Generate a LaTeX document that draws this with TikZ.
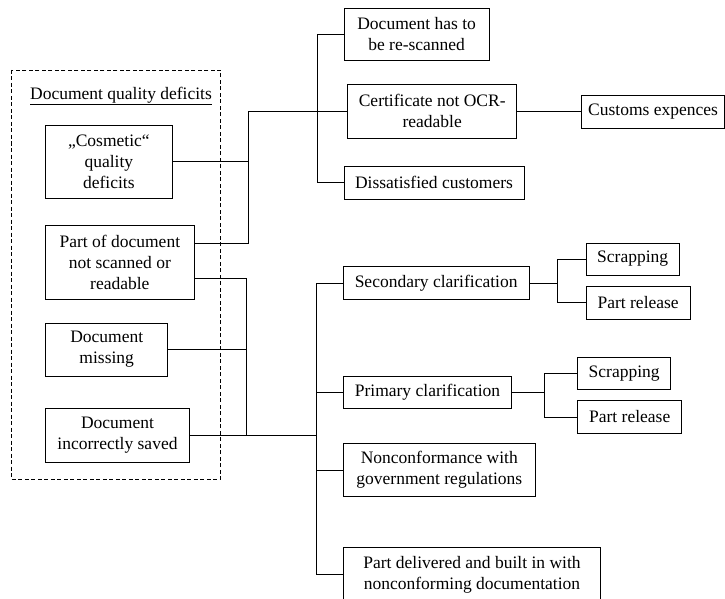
\documentclass[tikz,border=0pt]{standalone}
\usepackage{fontspec}
\setmainfont{Liberation Serif}
\begin{document}
\begin{tikzpicture}[x=1pt,y=-1pt,
  every node/.style={font=\fontsize{17.5}{21}\selectfont},
  box/.style={draw=black,line width=0.8pt,inner sep=0pt,align=center},
  conn/.style={line width=0.8pt},
  grp/.style={draw=black,line width=0.8pt,dash pattern=on 4pt off 2.5pt}]
\useasboundingbox (0,0) rectangle (725,599);
% group
\draw[grp] (11.7,70) rectangle (220.7,479.3);
\node (title) at (121,96) {\underline{Document quality deficits}};
% left boxes
\node[box,minimum width=126.3pt,minimum height=73.3pt] (cos) at (108.85,161.65) {„Cosmetic“\\quality\\deficits};
\node[box,minimum width=148.3pt,minimum height=73.6pt] (part) at (119.85,262.5) {Part of document\\not scanned or\\readable};
\node[box,minimum width=122pt,minimum height=52.7pt] (miss) at (106.7,349.65) {Document\\missing};
\node[box,minimum width=143.6pt,minimum height=53.3pt] (inc) at (117.5,435.35) {Document\\incorrectly saved};
% upper right
\node[box,minimum width=145.3pt,minimum height=52.4pt] (rescan) at (416.65,34.5) {Document has to\\be re-scanned};
\node[box,minimum width=169pt,minimum height=53.7pt] (cert) at (432.2,111.15) {Certificate not OCR-\\readable};
\node[box,minimum width=180pt,minimum height=32.3pt] (dissat) at (434,182.85) {Dissatisfied customers};
\node[box,minimum width=142.8pt,minimum height=32.3pt] (cust) at (653.1,111.9) {Customs expences};
% lower right
\node[box,minimum width=185.7pt,minimum height=32.6pt] (sec) at (436.15,283) {Secondary clarification};
\node[box,minimum width=93.3pt,minimum height=32pt] (scr1) at (632.65,259) {Scrapping};
\node[box,minimum width=104.3pt,minimum height=33pt] (rel1) at (638.15,302.5) {Part release};
\node[box,minimum width=168.4pt,minimum height=32.7pt] (prim) at (427.5,392.35) {Primary clarification};
\node[box,minimum width=93pt,minimum height=32pt] (scr2) at (624.2,373.3) {Scrapping};
\node[box,minimum width=104pt,minimum height=32.6pt] (rel2) at (629.7,417) {Part release};
\node[box,minimum width=192pt,minimum height=53.4pt] (nonc) at (439.3,470) {Nonconformance with\\government regulations};
\node[box,minimum width=257.4pt,minimum height=53.3pt] (deliv) at (472,574.35) {Part delivered and built in with\\nonconforming documentation};
% junction coordinates
\coordinate (ja) at (248.5,111.15);
\coordinate (jb) at (317.3,111.15);
\coordinate (jc) at (246.7,278.3);
\coordinate (jd) at (316.7,435.35);
\coordinate (je) at (557.7,283);
\coordinate (jf) at (544.3,392.35);
% upper tree
\draw[conn] (cos.east) -- (cos.east -| ja);
\draw[conn] ([yshift=19.2pt]part.east) -| (ja) -- (cert.west);
\draw[conn] (rescan.west) -| (jb) |- (dissat.west);
\draw[conn] (cert.east) -- (cert.east -| cust.west);
% lower tree
\draw[conn] ([yshift=-15.8pt]part.east) -- (jc) |- (inc.east);
\draw[conn] (miss.east) -- (miss.east -| jc);
\draw[conn] (inc.east) -- (jd);
\draw[conn] (sec.west) -| (jd) |- (deliv.west);
\draw[conn] (prim.west) -- (prim.west -| jd);
\draw[conn] (nonc.west) -- (nonc.west -| jd);
\draw[conn] (sec.east) -- (je);
\draw[conn] (scr1.west) -| (je) |- (rel1.west);
\draw[conn] (prim.east) -- (jf);
\draw[conn] (scr2.west) -| (jf) |- (rel2.west);
\end{tikzpicture}
\end{document}
